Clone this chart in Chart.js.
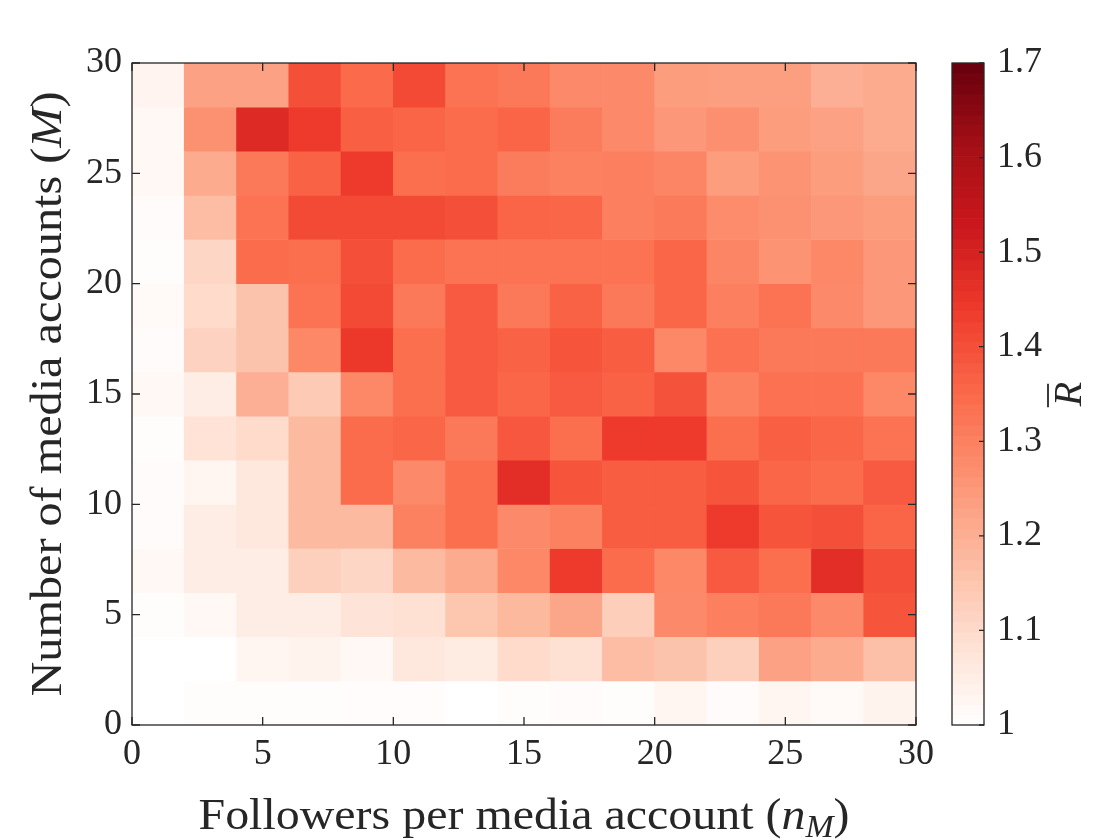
<!DOCTYPE html>
<html>
<head>
<meta charset="utf-8">
<script src="https://cdn.jsdelivr.net/npm/chart.js@4.4.0/dist/chart.umd.min.js"></script>
<style>
  html, body { margin: 0; padding: 0; background: #ffffff; }
  #wrap { width: 1120px; height: 840px; }
</style>
</head>
<body>
<div id="wrap"><canvas id="heat" width="1120" height="840"></canvas></div>
<script>
// cell centres
const nM = [1, 3, 5, 7, 9, 11, 13, 15, 17, 19, 21, 23, 25, 27, 29];
const M  = [29, 27, 25, 23, 21, 19, 17, 15, 13, 11, 9, 7, 5, 3, 1]; // rows, top to bottom

// mean R per cell, one array per row (columns follow nM)
const R_M29 = [1.03, 1.23, 1.23, 1.40, 1.35, 1.41, 1.33, 1.32, 1.28, 1.28, 1.24, 1.235, 1.235, 1.20, 1.21];
const R_M27 = [1.02, 1.265, 1.48, 1.44, 1.37, 1.36, 1.345, 1.36, 1.31, 1.28, 1.25, 1.27, 1.24, 1.23, 1.21];
const R_M25 = [1.02, 1.21, 1.32, 1.365, 1.44, 1.34, 1.345, 1.31, 1.30, 1.305, 1.29, 1.24, 1.26, 1.24, 1.22];
const R_M23 = [1.01, 1.17, 1.33, 1.41, 1.41, 1.41, 1.40, 1.36, 1.355, 1.305, 1.315, 1.275, 1.265, 1.25, 1.24];
const R_M21 = [1.005, 1.11, 1.345, 1.34, 1.40, 1.345, 1.33, 1.33, 1.33, 1.33, 1.355, 1.29, 1.26, 1.285, 1.25];
const R_M19 = [1.015, 1.10, 1.155, 1.33, 1.41, 1.32, 1.38, 1.32, 1.365, 1.32, 1.355, 1.305, 1.33, 1.28, 1.25];
const R_M17 = [1.01, 1.12, 1.155, 1.285, 1.445, 1.34, 1.38, 1.365, 1.39, 1.375, 1.285, 1.335, 1.32, 1.32, 1.32];
const R_M15 = [1.02, 1.05, 1.20, 1.14, 1.285, 1.34, 1.38, 1.355, 1.38, 1.365, 1.395, 1.30, 1.335, 1.335, 1.285];
const R_M13 = [1.005, 1.08, 1.10, 1.175, 1.345, 1.355, 1.32, 1.385, 1.34, 1.44, 1.44, 1.34, 1.37, 1.355, 1.33];
const R_M11 = [1.01, 1.025, 1.065, 1.175, 1.345, 1.28, 1.34, 1.47, 1.39, 1.375, 1.375, 1.39, 1.355, 1.345, 1.38];
const R_M9  = [1.01, 1.05, 1.065, 1.175, 1.175, 1.30, 1.34, 1.28, 1.30, 1.375, 1.375, 1.44, 1.39, 1.40, 1.36];
const R_M7  = [1.02, 1.05, 1.05, 1.125, 1.11, 1.175, 1.21, 1.285, 1.44, 1.345, 1.285, 1.38, 1.34, 1.47, 1.40];
const R_M5  = [1.005, 1.02, 1.05, 1.05, 1.075, 1.085, 1.15, 1.18, 1.22, 1.13, 1.28, 1.305, 1.32, 1.28, 1.39];
const R_M3  = [1.00, 1.00, 1.025, 1.035, 1.02, 1.065, 1.055, 1.10, 1.085, 1.17, 1.155, 1.125, 1.23, 1.21, 1.165];
const R_M1  = [1.00, 1.005, 1.005, 1.005, 1.008, 1.008, 1.00, 1.005, 1.01, 1.005, 1.025, 1.01, 1.025, 1.015, 1.035];

const rows = [R_M29, R_M27, R_M25, R_M23, R_M21, R_M19, R_M17, R_M15, R_M13, R_M11, R_M9, R_M7, R_M5, R_M3, R_M1];

const xTicks = [0, 5, 10, 15, 20, 25, 30];
const yTicks = [0, 5, 10, 15, 20, 25, 30];
const cbTicks = [1, 1.1, 1.2, 1.3, 1.4, 1.5, 1.6, 1.7];
const cbMin = 1, cbMax = 1.7;

// ColorBrewer "Reds", starting from white
const reds = [
  [255, 255, 255], [254, 224, 210], [252, 187, 161], [252, 146, 114],
  [251, 106, 74], [239, 59, 44], [203, 24, 29], [165, 15, 21], [103, 0, 13]
];

function redsColor(v) {
  let t = (v - cbMin) / (cbMax - cbMin);
  t = Math.max(0, Math.min(1, t));
  const p = t * (reds.length - 1);
  const i = Math.min(Math.floor(p), reds.length - 2);
  const f = p - i;
  const a = reds[i], b = reds[i + 1];
  const c = a.map((ai, k) => Math.round(ai + (b[k] - ai) * f));
  return 'rgb(' + c.join(',') + ')';
}

const INK = '#262626';
const SERIF = '"Liberation Serif", "DejaVu Serif", serif';

// mixed text (italic, subscript) centred on cx, stretched to a given width
function drawRich(ctx, parts, cx, cy, width) {
  let total = 0;
  parts.forEach(p => {
    ctx.font = p.font;
    p.w = ctx.measureText(p.t).width;
    total += p.w;
  });
  const k = width ? width / total : 1;
  ctx.save();
  ctx.translate(cx, cy);
  ctx.scale(k, 1);
  let x = -total / 2;
  parts.forEach(p => {
    ctx.font = p.font;
    ctx.fillText(p.t, x, p.dy || 0);
    x += p.w;
  });
  ctx.restore();
}

// keep tick labels from pushing the plot box around
function fixSize(w, h) {
  return s => {
    if (w) s.width = w;
    if (h) s.height = h;
    s.paddingTop = 0; s.paddingBottom = 0;
    s.paddingLeft = 0; s.paddingRight = 0;
  };
}

const matlabFrame = {
  id: 'matlabFrame',
  afterDraw(chart) {
    const ctx = chart.ctx;
    const a = chart.chartArea;
    const sx = chart.scales.x, sy = chart.scales.y, cb = chart.scales.cb;
    ctx.save();
    ctx.strokeStyle = INK;
    ctx.fillStyle = INK;
    ctx.lineWidth = 1.3;

    // box
    ctx.strokeRect(a.left, a.top, a.right - a.left, a.bottom - a.top);

    // inward ticks
    const tl = 8;
    ctx.beginPath();
    xTicks.forEach(v => {
      const px = sx.getPixelForValue(v);
      ctx.moveTo(px, a.bottom); ctx.lineTo(px, a.bottom - tl);
      ctx.moveTo(px, a.top); ctx.lineTo(px, a.top + tl);
    });
    yTicks.forEach(v => {
      const py = sy.getPixelForValue(v);
      ctx.moveTo(a.left, py); ctx.lineTo(a.left + tl, py);
      ctx.moveTo(a.right, py); ctx.lineTo(a.right - tl, py);
    });
    ctx.stroke();

    // colour bar
    const bx0 = a.right + 36, bx1 = a.right + 68;
    const steps = 64;
    for (let k = 0; k < steps; k++) {
      const v0 = cbMin + (cbMax - cbMin) * k / steps;
      const v1 = cbMin + (cbMax - cbMin) * (k + 1) / steps;
      const y0 = cb.getPixelForValue(v0), y1 = cb.getPixelForValue(v1);
      ctx.fillStyle = redsColor((v0 + v1) / 2);
      ctx.fillRect(bx0, y1, bx1 - bx0, y0 - y1 + 0.6);
    }
    ctx.strokeRect(bx0, cb.top, bx1 - bx0, cb.bottom - cb.top);
    ctx.beginPath();
    cbTicks.forEach(v => {
      const py = cb.getPixelForValue(v);
      ctx.moveTo(bx1, py); ctx.lineTo(bx1 - 5, py);
    });
    ctx.stroke();

    ctx.fillStyle = INK;
    ctx.textBaseline = 'alphabetic';

    // x title
    drawRich(ctx, [
      { t: 'Followers per media account (', font: '44px ' + SERIF },
      { t: 'n', font: 'italic 44px ' + SERIF },
      { t: 'M', font: 'italic 31px ' + SERIF, dy: 8 },
      { t: ')', font: '44px ' + SERIF }
    ], (a.left + a.right) / 2, 829, 651);

    // y title
    ctx.save();
    ctx.translate(61, (a.top + a.bottom) / 2);
    ctx.rotate(-Math.PI / 2);
    drawRich(ctx, [
      { t: 'Number of media accounts (', font: '44px ' + SERIF },
      { t: 'M', font: 'italic 44px ' + SERIF },
      { t: ')', font: '44px ' + SERIF }
    ], 0, 0, 605);
    ctx.restore();

    // colour bar title: R with overline
    ctx.save();
    ctx.translate(1081, (a.top + a.bottom) / 2);
    ctx.rotate(-Math.PI / 2);
    ctx.font = 'italic 40px ' + SERIF;
    const w = ctx.measureText('R').width;
    ctx.fillText('R', -w / 2, 0);
    ctx.lineWidth = 1.8;
    ctx.beginPath();
    ctx.moveTo(-w / 2 - 1, -33);
    ctx.lineTo(w / 2 - 2, -33);
    ctx.stroke();
    ctx.restore();

    ctx.restore();
  }
};

const datasets = rows.map((vals, r) => ({
  data: nM.map(x => ({ x: x, y: [M[r] - 1, M[r] + 1] })),
  backgroundColor: vals.map(redsColor),
  borderWidth: 0,
  grouped: false,
  barPercentage: 1,
  categoryPercentage: 1
}));

new Chart(document.getElementById('heat'), {
  type: 'bar',
  data: { datasets: datasets },
  options: {
    responsive: false,
    animation: false,
    events: [],
    layout: { padding: { top: 63, right: 0, bottom: 0, left: 0 } },
    plugins: { legend: { display: false }, tooltip: { enabled: false } },
    scales: {
      x: {
        type: 'linear', min: 0, max: 30, offset: false,
        grid: { display: false, drawTicks: false, offset: false },
        border: { display: false },
        afterBuildTicks: s => { s.ticks = xTicks.map(v => ({ value: v })); },
        ticks: {
          padding: 8, color: INK, maxRotation: 0, autoSkip: false,
          font: { family: SERIF, size: 36 }
        },
        afterFit: fixSize(0, 115)
      },
      y: {
        type: 'linear', position: 'left', min: 0, max: 30,
        grid: { display: false, drawTicks: false },
        border: { display: false },
        afterBuildTicks: s => { s.ticks = yTicks.map(v => ({ value: v })); },
        ticks: {
          padding: 10, color: INK, autoSkip: false,
          font: { family: SERIF, size: 36 }
        },
        afterFit: fixSize(132, 0)
      },
      cb: {
        type: 'linear', position: 'right', min: cbMin, max: cbMax,
        grid: { display: false, drawTicks: false },
        border: { display: false },
        afterBuildTicks: s => { s.ticks = cbTicks.map(v => ({ value: v })); },
        ticks: {
          padding: 81, color: INK, autoSkip: false,
          font: { family: SERIF, size: 36 },
          callback: v => String(Math.round(v * 10) / 10)
        },
        afterFit: fixSize(204, 0)
      }
    }
  },
  plugins: [matlabFrame]
});
</script>
</body>
</html>
